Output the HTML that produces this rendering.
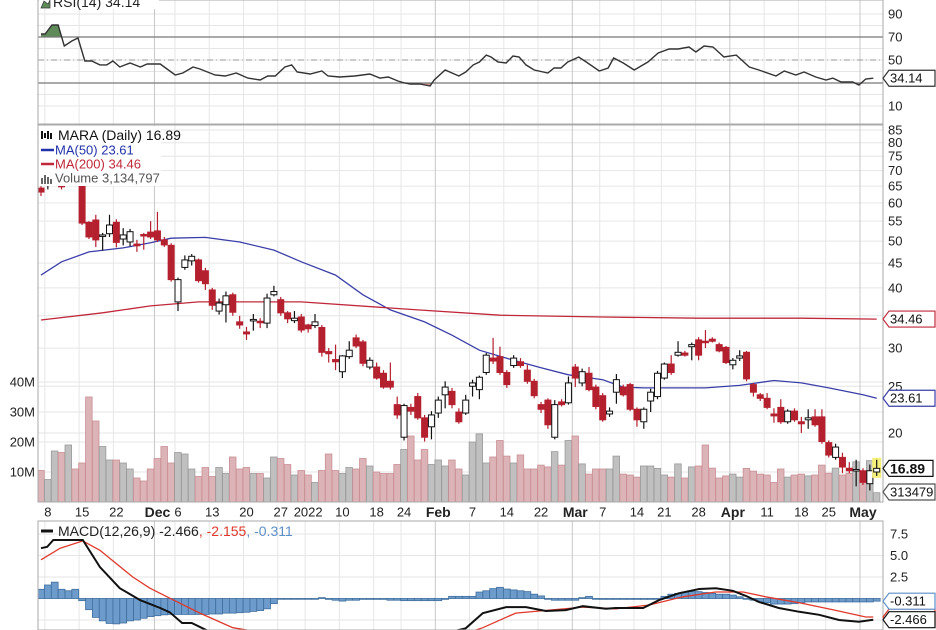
<!DOCTYPE html>
<html><head><meta charset="utf-8">
<style>
html,body{margin:0;padding:0;background:#fff;}
svg{display:block;font-family:"Liberation Sans",sans-serif;}
</style></head>
<body>
<svg id="chart" width="936" height="630" viewBox="0 0 936 630" xmlns="http://www.w3.org/2000/svg">
<defs>
<clipPath id="cRsi"><rect x="38" y="0" width="845" height="124"/></clipPath>
<clipPath id="cMain"><rect x="38" y="125" width="845" height="377"/></clipPath>
<clipPath id="cMacd"><rect x="38" y="521" width="845" height="109"/></clipPath>
<clipPath id="cOver"><rect x="38" y="0" width="845" height="37"/></clipPath>
<clipPath id="cUnder"><rect x="38" y="83" width="845" height="41"/></clipPath>
</defs>
<g id="grid"></g>
<g id="rsi"></g>
<g id="vol" clip-path="url(#cMain)"></g>
<g id="ma" clip-path="url(#cMain)"></g>
<g id="candles" clip-path="url(#cMain)"></g>
<g id="macd"></g>
<g id="frame"></g>
<g id="axes"></g>
<g id="legend"></g>
</svg>
<script>
const opens=[64.4,66,70,65.5,70,73,65.4,54.7,55.3,51.2,51.8,54.7,50.5,49.8,49.3,51.6,52.2,52.5,50.3,49,37.4,44.1,45.5,45.7,43.4,39.6,35.8,36.9,38.7,34.0,32.4,34.3,34.1,33.8,38.7,37.8,35.5,34.2,34.8,33.5,33.4,33.1,29.5,28.4,26.8,28.8,31.5,30.9,27.4,27.4,26.6,25.6,22.9,19.6,22.6,23.8,21.5,20.6,22,24,24.4,22.1,22,25,24.6,26.7,28.6,28.8,26.7,27.6,28.1,27,25.6,22.9,23.4,19.6,23.2,23.1,27.4,25.4,26.6,24.9,23.9,21.9,24.3,24.9,25.2,22.4,21.1,23.3,23.8,26,27.8,29,29.3,30.2,31.2,31,31.3,30.5,30.1,27.7,28.6,29.4,25.2,24,23.6,21.9,22.6,21.1,22.2,21.1,21.3,21.6,21.6,19.1,17.8,17.8,16.9,16.8,16.7,15.7,16.6];
const highs=[65,72,80,66.5,76,78,66.5,55,56.7,52,56.7,55.5,53.2,53,50.3,52,55,57.5,51,49.5,42,46.7,47,46,44,40,38,39.3,39.1,35,33.2,35.3,34.6,38.9,40.4,38.3,35.8,35.8,35.3,33.7,35.3,33.5,30,30.5,29,31,32,31.2,28.7,28,27,28,23.8,23,23,24.2,21.8,22.2,23.8,25.6,24.8,22.5,24,25.8,26.3,29.3,31.5,30.2,27,29,28.6,27.7,25.9,23.2,23.6,23.4,23.5,26.2,27.8,27.2,27.4,25.2,24.2,22.6,26.5,25.2,25.4,22.6,22.6,24.7,26.9,28,29,31,29.6,30.8,31.6,32.7,31.6,30.8,30.3,28.6,29.7,29.6,25.4,24.2,24.2,22.5,23.5,22.4,22.5,21.6,22.4,22.4,22.4,19.3,19,18.2,17.4,17.6,16.9,17.2,17.6];
const lows=[62,64,69,64,68,66,54,50.5,48.6,47.8,51,48.5,49,48.8,47.5,48,50.5,49.8,48.6,41.2,35.8,43.6,44.5,41,39.6,36,35.2,33.9,35,32.9,31.2,32.6,33,33,38.4,35,33.8,33.8,32.3,32.3,33,28.8,28,27,26,28.5,30,27.5,27.1,25.8,24.7,24.6,21.4,19.3,21.8,21.3,19.2,19.4,21.5,22.5,22.5,20.9,21.8,23.8,23.5,26.4,27.8,26.4,24.8,27.3,27.3,25.3,23.6,22,20.4,19.4,22.7,22.9,24.9,25,24.4,22.4,21.1,21.6,23,23.8,22.2,20.6,20.4,22.1,23.5,25.8,26.4,28.8,28.8,28.3,28.3,30,30.8,29.4,27.8,27.1,28.2,25.6,23.8,23.3,22.4,21,20.9,20.9,21.1,20,20.4,20.6,19,17.8,17.6,16.5,16.5,15.5,15.6,15.2,16.3];
const closes=[63.2,70,78,64.8,73,68,54.5,51,50.3,51.5,54,49.7,51.5,52.3,48.9,51.4,51,50.3,49.1,41.6,41.6,45.7,46.5,41.4,40.8,36.8,37.2,38.5,35.6,33.5,32.1,34.4,33.9,38.1,39.3,35.5,34.5,34.6,32.7,32.9,34.0,29.4,29.2,28.1,28.9,29.7,30.3,27.9,28.3,26.0,24.9,24.9,21.8,22.8,22.2,21.5,19.6,21.8,23.4,24.9,22.9,21.1,23.4,25.4,26.1,29,28.2,26.7,25.2,28.6,27.6,25.6,23.9,22.4,20.8,22.9,22.9,25.4,26.0,26.8,24.6,22.7,21.3,22.2,25.8,24,22.4,21.3,22.4,24.3,26.6,27.8,26.7,29.4,29.0,30.5,29.0,30.8,31,29.6,28,28.3,28.9,25.9,24.3,23.6,22.6,21.7,21.1,22.2,21.3,20.9,21.5,20.8,19.2,18.0,18.7,17.0,16.7,16.8,15.8,16.7,16.89];
const volumesM=[10.5,7.5,17,16.5,19,11,13,35,27,18.5,14,14,13,11,8,7,11,14.5,18.5,13,16.5,16,11,8.5,11.5,8.5,11.5,9.5,15,11,11.5,9.5,9.5,8,15,14.5,12.5,9,10.5,9,6.5,10.5,16,10.5,9.5,11.5,11,14.5,12,10,9.5,9.5,12.5,17.5,22,14,17.5,12.5,14,12,14,11,9,20,22.7,13,15,20.5,15.3,13,15.7,11,11,12.3,11.7,16.8,12.3,20.5,22,12.7,9.3,11,11,11,15.3,9.3,9,8.3,12,12,11.2,9,8.3,12.7,8,11.7,12,19,11.3,8,8.7,9.3,8.3,11.2,10.3,9.3,9,6.5,11,8.3,9,9.3,8.7,9,12.3,9.6,11.3,9,9.6,13.4,9.6,13.8,3.1];
const ma50Idx=[0,3,7,12,16,19,24,29,34,38,43,47,51,56,60,64,69,73,77,82,85,88,92,97,102,107,111,115,120,122];
const ma50Val=[42.5,45.3,47.5,48.4,49.6,50.7,50.9,49.8,47.9,45.3,42.5,38.7,36.0,34.0,31.9,29.7,28.3,27.3,26.4,25.8,24.9,24.8,24.8,24.8,25.1,25.7,25.4,24.8,24.0,23.61];
const ma200Idx=[0,9,16,23,38,55,67,82,96,111,122];
const ma200Val=[34.3,35.5,36.7,37.4,37.4,36.0,35.1,34.8,34.6,34.6,34.46];
const rsiIdx=[0,0.6,1.6,2.5,3.4,4.5,5.4,6.4,7.4,8.6,9.6,10.5,11.5,13,14.5,15.5,17.4,19.6,20.7,22.2,23.2,25.4,26.9,28.5,30.2,32,33.1,34.2,35.6,36.6,37.4,39.3,41,41.9,43.6,45.8,48,49.5,50.7,52.1,53.1,53.9,55.3,56.8,57.4,59,61,62,63.1,64,65,65.7,66.7,67.9,68.9,69.8,70.8,72,74,74.9,75.9,76.9,78.5,79.6,81.5,82.8,83.6,85,86.6,88.6,90.1,91.7,93,94.6,95.6,96.8,98.1,99.7,101.5,103.4,104.8,107.3,108.5,110.2,111.4,113.1,114.6,115.6,116.8,118.5,119.4,120.4,121.5];
const rsiVal=[72.6,72.6,80.4,80.4,62.2,66.5,69.1,49.1,49.1,45.7,45.7,49.1,43.9,47.4,43.9,46.5,46.5,37,38.7,43.9,42.2,37,36.1,38.7,34.3,32.6,36.1,36.1,43.9,45.7,39.6,37.8,40.4,36.1,35.2,36.1,37.8,34.3,35.2,31.7,30,29.1,29.1,27.4,32.6,41.3,36.1,39.6,45.7,48.3,54.3,52.6,48.3,47.4,53.5,52.6,45.7,41.3,38.7,43,43,48.3,52.6,48.3,40.4,43,51.7,47.4,41.3,48.3,56.1,59.6,59.6,61.3,57,62.2,61.3,52.6,54.3,43.9,41.3,36.1,40.4,37,39.6,35.2,32.6,34.3,30.9,30.9,28.3,33.5,34.14];
const macdIdx=[0,0.9,1.8,6.1,8.6,11.5,14.5,17.4,18.8,20.6,22,24.2,30.5,37.8,45.1,52.4,58.2,62,64.5,67.9,70.8,73.7,76.6,79.1,82.5,83.9,87.9,90.2,93.1,96.1,98.5,101,102.9,104.8,107.7,110.7,113.6,116.5,119.4,121.5];
const macdVal=[5.85,6.0,6.8,6.8,3.66,1.2,-0.2,-1.1,-1.6,-2.85,-2.85,-3.7,-4.6,-5.0,-5.1,-4.8,-4.2,-3.47,-1.7,-1.0,-1.0,-1.45,-1.35,-0.9,-1.2,-1.1,-1.1,-0.2,0.6,1.1,1.2,0.9,0.3,-0.4,-1.1,-1.55,-1.9,-2.5,-2.7,-2.466];
const sigIdx=[0,2.8,6.1,8.6,13.4,15.9,19.9,23.2,28,34.9,42.2,49.5,56.8,62.6,64.5,69.3,74.2,79.1,83.9,88.8,93.7,98.5,102.5,105.8,110.7,115.6,120.4,121.5];
const sigVal=[4.5,5.85,6.7,5.6,2.5,1.2,-0.4,-1.7,-3.4,-4.3,-4.7,-4.8,-4.5,-3.9,-3.4,-1.7,-1.35,-1.0,-1.2,-0.75,0.2,0.75,0.75,0.2,-0.5,-1.3,-2.15,-2.155];
const histVal=[1.07,1.57,1.9,1.07,0.9,1.07,-0.25,-1.3,-2.2,-2.6,-2.9,-2.95,-2.85,-2.6,-2.5,-2.3,-2.1,-2.0,-1.9,-1.85,-1.85,-1.85,-1.85,-1.85,-1.85,-1.8,-1.8,-1.7,-1.7,-1.65,-1.6,-1.5,-1.4,-1.2,-0.6,0,0,0,0,0,0,0.1,-0.1,-0.2,-0.3,-0.2,-0.2,-0.1,-0.1,-0.1,-0.1,-0.2,-0.2,-0.25,-0.25,-0.25,-0.25,-0.25,-0.25,-0.1,0.25,0.25,0.25,0.25,0.75,0.9,1.15,1.3,1.1,1.0,0.9,0.8,0.5,0.3,0,-0.2,-0.2,-0.2,-0.2,0.1,0.25,0,-0.1,-0.1,-0.1,-0.1,-0.1,-0.1,-0.1,-0.1,0,0.25,0.5,0.6,0.75,0.8,0.8,0.7,0.6,0.5,0.5,0.4,0.2,0,-0.2,-0.4,-0.5,-0.65,-0.65,-0.65,-0.6,-0.5,-0.4,-0.4,-0.4,-0.4,-0.4,-0.4,-0.4,-0.4,-0.4,-0.4,-0.311];
const dateTickIdx=[1,6,11,17,20,25,30,35,39,44,49,53,58,63,68,73,78,82,87,91,96,101,106,111,115,120];
const dateTickLbl=["8","15","22","Dec","6","13","20","27","2022","10","18","24","Feb","7","14","22","Mar","7","14","21","28","Apr","11","18","25","May"];
const priceTicks=[85,80,75,70,65,60,55,50,45,40,30,25,20];
const volTicks=[10,20,30,40];
const rsiTicks=[90,70,50,10];
const macdTicks=[7.5,5.0,2.5];

const NS="http://www.w3.org/2000/svg";
const X0=38,X1=883;
const xs=i=>41+6.85*i;
const yp=p=>130+209.4*Math.log(85/p);
const yv=m=>502-3*m;
const yr=v=>60-(v-50)*1.15;
const ym=v=>598.5-v*8.6;
function mk(tag,attrs,parent,text){const e=document.createElementNS(NS,tag);for(const k in attrs)e.setAttribute(k,attrs[k]);if(text!==undefined)e.textContent=text;parent.appendChild(e);return e;}
const G=id=>document.getElementById(id);
const grid=G('grid'),rsiG=G('rsi'),volG=G('vol'),maG=G('ma'),cG=G('candles'),macdG=G('macd'),frame=G('frame'),axes=G('axes'),leg=G('legend');

// grid
for(let k=10;k<=90;k+=10){const l=mk('line',{x1:X0,x2:X1,y1:yr(k),y2:yr(k),stroke:'#e6e6e6','stroke-width':1},grid);}
priceTicks.concat([35]).forEach(p=>{const l=mk('line',{x1:X0,x2:X1,y1:yp(p),y2:yp(p),stroke:'#e6e6e6'},grid);});
volTicks.forEach(m=>{const l=mk('line',{x1:X0,x2:X1,y1:yv(m),y2:yv(m),stroke:'#e6e6e6'},grid);});
[7.5,5,2.5,0,-2.5].forEach(v=>{const l=mk('line',{x1:X0,x2:X1,y1:ym(v),y2:ym(v),stroke:'#e6e6e6'},grid);});
dateTickIdx.forEach((i,k)=>{const major=isNaN(+dateTickLbl[k]);const x=xs(i)-3;
 [[0,124],[125,502],[521,630]].forEach(r=>{const l=mk('line',{x1:x,x2:x,y1:r[0],y2:r[1],stroke:major?'#c8c8c8':'#e6e6e6'},grid);});});

// RSI
const rsiPts=rsiIdx.map((i,k)=>xs(i)+','+yr(rsiVal[k]).toFixed(1));
const first=xs(rsiIdx[0]),last=xs(rsiIdx[rsiIdx.length-1]);
const ov=mk('polygon',{points:first+','+yr(70)+' '+rsiPts.join(' ')+' '+last+','+yr(70),fill:'#5f8a5a','clip-path':'url(#cOver)'},rsiG);

const un=mk('polygon',{points:first+','+yr(30)+' '+rsiPts.join(' ')+' '+last+','+yr(30),fill:'#d99a9a','clip-path':'url(#cUnder)'},rsiG);

[70,30].forEach(v=>{const l=mk('line',{x1:X0,x2:X1,y1:yr(v),y2:yr(v),stroke:'#777','stroke-width':1.3},rsiG);});
const mid=mk('line',{x1:X0,x2:X1,y1:yr(50),y2:yr(50),stroke:'#999','stroke-dasharray':'6,3,1,3'},rsiG);

const rl=mk('polyline',{points:rsiPts.join(' '),fill:'none',stroke:'#333','stroke-width':1.4,'clip-path':'url(#cRsi)'},rsiG);


// volume
volumesM.forEach((m,i)=>{const red=closes[i]<opens[i];const r=mk('rect',{x:xs(i)-3.4,y:yv(m),width:6.6,height:502-yv(m),fill:red?'#dcb3b6':'#c0c0c0',stroke:red?'#c99096':'#9a9a9a','stroke-width':0.8},volG);
 });

// MAs
const ma50=mk('polyline',{points:ma50Idx.map((i,k)=>xs(i)+','+yp(ma50Val[k]).toFixed(1)).join(' '),fill:'none',stroke:'#3a3fa8','stroke-width':1.3},maG);

const ma200=mk('polyline',{points:ma200Idx.map((i,k)=>xs(i)+','+yp(ma200Val[k]).toFixed(1)).join(' '),fill:'none',stroke:'#c0283a','stroke-width':1.3},maG);


// candles
opens.forEach((o,i)=>{const c=closes[i];const red=c<o;const x=xs(i);const col=red?'#b5202f':'#111';
 const g=mk('g',{},cG);
 if(i===opens.length-1)mk('rect',{x:x-4.5,y:yp(highs[i])-2,width:9,height:yp(lows[i])-yp(highs[i])+4,fill:'#f5f07a'},g);
 mk('line',{x1:x,x2:x,y1:yp(highs[i]),y2:yp(lows[i]),stroke:col,'stroke-width':1.2},g);
 const top=yp(Math.max(o,c)),bot=yp(Math.min(o,c));
 mk('rect',{x:x-3,y:top,width:6,height:Math.max(1.5,bot-top),fill:red?'#b5202f':'#fff',stroke:col,'stroke-width':1},g);});

// MACD
histVal.forEach((v,i)=>{const y0=ym(0),y=ym(v);const r=mk('rect',{x:xs(i)-3.4,y:Math.min(y,y0),width:6.85,height:Math.max(0.8,Math.abs(y-y0)),fill:'#6d9bcb',stroke:'#3f6f9f','stroke-width':0.8,'clip-path':'url(#cMacd)'},macdG);
 });
const sl=mk('polyline',{points:sigIdx.map((i,k)=>xs(i)+','+ym(sigVal[k]).toFixed(1)).join(' '),fill:'none',stroke:'#e0392b','stroke-width':1.3,'clip-path':'url(#cMacd)'},macdG);

const ml=mk('polyline',{points:macdIdx.map((i,k)=>xs(i)+','+ym(macdVal[k]).toFixed(1)).join(' '),fill:'none',stroke:'#111','stroke-width':2,'clip-path':'url(#cMacd)'},macdG);


// frames
[[0,124],[125,502],[521,630]].forEach(r=>{const f=mk('rect',{x:X0,y:r[0],width:X1-X0,height:r[1]-r[0],fill:'none',stroke:'#aaa'},frame);});

// axes labels
function lab(x,y,t,name,anchor,extra){const e=mk('text',Object.assign({x:x,y:y,'font-size':13,fill:'#222','text-anchor':anchor||'start','dominant-baseline':'central'},extra||{}),axes,t);return e;}
rsiTicks.forEach(v=>lab(888,yr(v),String(v),'rsi-tick-label'));
priceTicks.forEach(p=>lab(888,yp(p),String(p),'price-tick-label'));
volTicks.forEach(m=>lab(35,yv(m),m+'M','volume-tick-label','end'));
macdTicks.forEach(v=>lab(890,ym(v),v.toFixed(1),'macd-tick-label'));
dateTickIdx.forEach((i,k)=>{const t=dateTickLbl[k];const major=isNaN(+t);lab(xs(i),512,t,'date-tick-label','middle',major?{'font-weight':'bold','font-size':14}:{});});

function tag(y,t,stroke,name,bold,bg){const g=mk('g',{},axes);
 const w=bold?44:46;mk('polygon',{points:`883,${y} 889,${y-8} ${889+w},${y-8} ${889+w},${y+8} 889,${y+8}`,fill:bg||'#fff',stroke:stroke,'stroke-width':1.2},g);
 mk('text',{x:890,y:y,'font-size':bold?14:13,'font-weight':bold?'bold':'normal',fill:'#111','dominant-baseline':'central'},g,t);}
tag(yr(34.14),'34.14','#333','rsi-value-tag');
tag(yp(34.46),'34.46','#c0283a','ma200-value-tag');
tag(yp(23.61),'23.61','#3a3fa8','ma50-value-tag');
tag(yp(16.89),'16.89','#111','price-value-tag',true);
tag(492,'313479','#555','volume-value-tag');
tag(ym(-2.155),'','#e0392b','signal-value-tag');
tag(ym(-0.311),'-0.311','#5b8fc8','histogram-value-tag');
tag(ym(-2.466),'-2.466','#111','macd-value-tag');

// legends
function ltxt(x,y,t,fill,name,size){const e=mk('text',{x:x,y:y,'font-size':size||13,fill:fill,'dominant-baseline':'central'},leg,t);return e;}
const lb=mk('rect',{x:39,y:126,width:122,height:60,fill:'#fff'},leg);
const rb=mk('rect',{x:39,y:0,width:120,height:9,fill:'#fff'},leg);
mk('path',{d:'M41 8 L44 1 L48 4 L50 0 L50 8 Z',fill:'#5f8a5a',stroke:'#333','stroke-width':0.7},leg);
ltxt(53,2,'RSI(14) 34.14','#222','rsi-legend',14);
mk('path',{d:'M42 131v8M45 133v5M48 131v8M51 133v6',stroke:'#111','stroke-width':2},leg);
ltxt(58,135,'MARA (Daily) 16.89','#111','price-legend',14);
mk('line',{x1:41,x2:54,y1:150,y2:150,stroke:'#2233aa','stroke-width':2.5},leg);
ltxt(55,150,'MA(50) 23.61','#2233aa','ma50-legend');
mk('line',{x1:41,x2:54,y1:164,y2:164,stroke:'#c0283a','stroke-width':2.5},leg);
ltxt(55,164,'MA(200) 34.46','#c0283a','ma200-legend');
mk('path',{d:'M42 184v-6M45 184v-9M48 184v-7M51 184v-5',stroke:'#666','stroke-width':2},leg);
ltxt(55,178,'Volume 3,134,797','#555','volume-legend');
mk('line',{x1:41,x2:53,y1:531,y2:531,stroke:'#111','stroke-width':3},leg);
const mt=mk('text',{x:58,y:531,'font-size':14,'dominant-baseline':'central'},leg);

mk('tspan',{fill:'#222'},mt,'MACD(12,26,9) -2.466');
mk('tspan',{fill:'#e0392b'},mt,', -2.155');
mk('tspan',{fill:'#5b8fc8'},mt,', -0.311');
</script>
</body></html>
